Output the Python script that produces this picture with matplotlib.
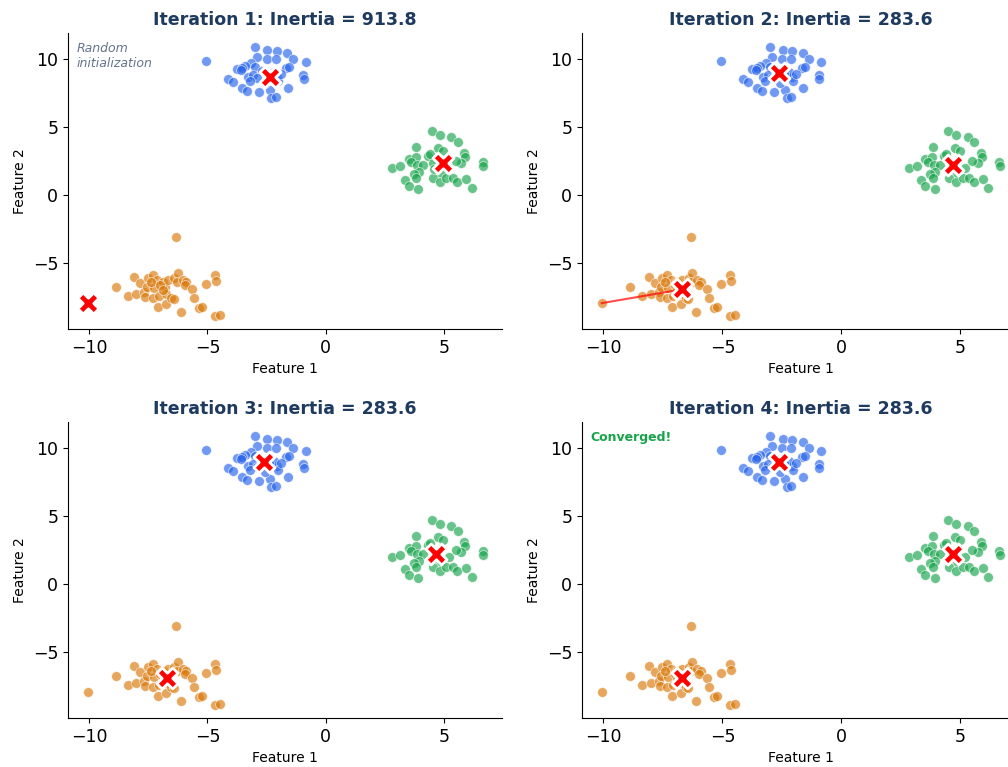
import matplotlib.pyplot as plt

# cluster points
blue_x = [-5.08, -3.01, -2.47, -2.06, -1.62, -1.38, -0.85, -2.9, -2.49, -2.12,
          -3.15, -3.43, -3.74, -3.55, -3.0, -1.67, -1.53, -4.14, -3.93, -3.29,
          -3.08, -0.96, -0.93, -3.53, -3.33, -2.83, -2.37, -1.6, -2.3, -2.12,
          -2.58, -2.07, -2.03, -3.6, -2.7, -2.2, -2.4, -2.9, -1.9, -3.2]
blue_y = [9.87, 10.9, 10.66, 10.6, 10.4, 10.0, 9.8, 10.1, 10.0, 10.0,
          9.68, 9.5, 9.26, 9.36, 9.43, 9.3, 9.43, 8.5, 8.33, 8.7,
          8.8, 8.8, 8.5, 7.85, 7.65, 7.55, 7.72, 7.85, 7.1, 7.23,
          8.2, 8.65, 8.4, 9.2, 9.1, 9.0, 8.9, 8.6, 8.9, 8.4]

green_x = [4.48, 4.83, 5.32, 5.58, 3.84, 4.76, 4.97, 5.86, 5.89, 3.53,
           3.81, 4.31, 3.63, 3.88, 4.12, 4.55, 5.72, 6.64, 6.67, 2.82,
           3.16, 3.95, 3.74, 4.87, 4.52, 4.83, 5.11, 5.37, 5.56, 5.93,
           3.35, 3.53, 3.91, 6.17, 3.84, 4.9, 5.2, 4.6, 5.5, 4.4]
green_y = [4.7, 4.41, 4.24, 3.87, 3.55, 3.43, 3.26, 3.06, 2.77, 2.62,
           2.77, 2.87, 2.45, 2.2, 2.2, 2.33, 2.38, 2.45, 2.16, 1.96,
           2.13, 1.67, 1.54, 1.59, 1.23, 0.98, 1.23, 1.23, 0.98, 1.15,
           1.1, 0.66, 0.44, 0.54, 1.23, 2.6, 2.0, 1.9, 2.5, 3.0]

orange_x = [-6.33, -8.09, -8.87, -8.38, -8.02, -7.84, -7.67, -7.53, -7.56, -7.32,
            -7.28, -7.15, -7.63, -7.32, -7.06, -7.11, -6.89, -6.78, -6.75, -6.75,
            -6.68, -6.54, -6.43, -6.4, -6.26, -6.3, -6.05, -5.9, -5.97, -5.65,
            -5.55, -6.11, -5.37, -5.22, -5.06, -4.7, -4.66, -4.7, -4.49, -10.07,
            -7.4, -7.0, -6.9]
orange_y = [-3.07, -6.0, -6.74, -7.4, -7.28, -6.5, -7.1, -6.13, -6.74, -5.88,
            -6.86, -6.25, -7.48, -7.55, -7.4, -8.21, -6.37, -6.74, -7.3, -8.0,
            -6.25, -7.55, -7.65, -6.13, -5.76, -6.37, -6.25, -6.37, -6.62, -6.91,
            -7.6, -8.58, -8.33, -8.21, -6.54, -5.88, -6.3, -8.87, -8.82, -7.95,
            -6.4, -6.6, -7.0]

# centroids per iteration: blue, green, orange
cent_x = [[-2.37, 4.96, -10.07],
          [-2.62, 4.68, -6.71],
          [-2.62, 4.68, -6.71],
          [-2.62, 4.68, -6.71]]
cent_y = [[8.68, 2.35, -7.95],
          [8.93, 2.2, -6.94],
          [8.93, 2.2, -6.94],
          [8.93, 2.2, -6.94]]
inertia = [913.8, 283.6, 283.6, 283.6]

colors = ['#2563eb', '#16a34a', '#d97706']
pts = [(blue_x, blue_y), (green_x, green_y), (orange_x, orange_y)]

W, H = 1008, 767
fig = plt.figure(figsize=(W / 100, H / 100), dpi=100)

# axes boxes in pixels: left, top, right, bottom
boxes = [(68, 33, 502, 329), (582, 33, 1019, 329),
         (68, 422, 502, 718), (582, 422, 1019, 718)]

for i, (l, t, r, b) in enumerate(boxes):
    ax = fig.add_axes([l / W, 1 - b / H, (r - l) / W, (b - t) / H])
    for (xs, ys), c in zip(pts, colors):
        ax.scatter(xs, ys, s=50, color=c, alpha=0.65, edgecolors='white',
                   linewidths=0.6, zorder=2)
    # movement lines from previous centroids
    if i > 0:
        for k in range(3):
            ax.plot([cent_x[i - 1][k], cent_x[i][k]], [cent_y[i - 1][k], cent_y[i][k]],
                    color='red', alpha=0.7, lw=1.5, zorder=3)
    ax.scatter(cent_x[i], cent_y[i], s=230, marker='X', color='red',
               edgecolors='white', linewidths=2, zorder=4)

    ax.set_xlim(-10.9, 7.46)
    ax.set_ylim(-9.85, 11.9)
    ax.set_xticks([-10, -5, 0, 5])
    ax.set_yticks([-5, 0, 5, 10])
    ax.tick_params(labelsize=12.5)
    ax.set_xlabel('Feature 1', fontsize=10)
    ax.set_ylabel('Feature 2', fontsize=10)
    ax.set_title('Iteration %d: Inertia = %.1f' % (i + 1, inertia[i]),
                 fontsize=12.5, fontweight='bold', color='#1e3a5f')
    ax.spines['top'].set_visible(False)
    ax.spines['right'].set_visible(False)

    if i == 0:
        ax.text(0.02, 0.97, 'Random\ninitialization', transform=ax.transAxes,
                fontsize=9, style='italic', color='#64748b', va='top')
    if i == 3:
        ax.text(0.02, 0.97, 'Converged!', transform=ax.transAxes,
                fontsize=9, fontweight='bold', color='#16a34a', va='top')

fig.savefig('out.png', dpi=100)
